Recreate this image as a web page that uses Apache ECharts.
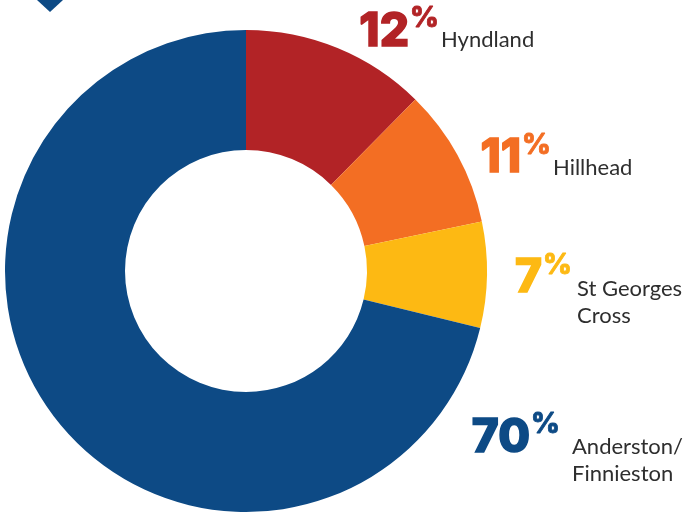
<!DOCTYPE html>
<html>
<head>
<meta charset="utf-8">
<script src="https://cdn.jsdelivr.net/npm/echarts@6/dist/echarts.min.js"></script>
<style>
html,body{margin:0;padding:0;background:#fff;}
#chart{width:684px;height:513px;}
</style>
</head>
<body>
<div id="chart"></div>
<script>
// ---- data ----
const categories = ['Hyndland', 'Hillhead', 'St Georges\nCross', 'Anderston/\nFinnieston'];
// slice sizes as drawn in the picture (angles measured)
const sliceValues = [12.4, 9.3, 7.1, 71.2];
// percentages as printed on the labels
const percentLabels = [12, 11, 7, 70];
const sliceColors = ['#B22326', '#F36E23', '#FDB913', '#0D4A85'];

// ---- layout (label anchors) ----
const labelPos = [
  { numRight: 409, numTop: 12, pctX: 410, pctTop: 6,   nameX: 441, nameTop: 28 },
  { numRight: 521, numTop: 138, pctX: 522, pctTop: 133, nameX: 553, nameTop: 156 },
  { numRight: 542, numTop: 258, pctX: 543, pctTop: 253, nameX: 577, nameTop: 277 },
  { numRight: 530, numTop: 418, pctX: 531, pctTop: 412, nameX: 572, nameTop: 435 }
];

const NUM_SIZE = 46, PCT_SIZE = 28, NAME_SIZE = 22;
const graphics = [];
// top-left chevron marker
graphics.push({
  type: 'polygon',
  shape: { points: [[37, 0], [63, 0], [50, 12]] },
  style: { fill: '#0D4A85' }
});
categories.forEach((name, i) => {
  const p = labelPos[i];
  graphics.push({
    type: 'text', x: p.numRight, y: p.numTop - 0.06 * NUM_SIZE,
    style: { text: String(percentLabels[i]), fill: sliceColors[i], stroke: sliceColors[i], lineWidth: 1.5,
      fontFamily: 'Inter', fontWeight: 800, fontStyle: 'normal', fontSize: NUM_SIZE, align: 'right', verticalAlign: 'top' }
  });
  graphics.push({
    type: 'text', x: p.pctX, y: p.pctTop - 0.06 * PCT_SIZE,
    style: { text: '%', fill: sliceColors[i], stroke: sliceColors[i], lineWidth: 0.8,
      fontFamily: 'Inter', fontWeight: 800, fontStyle: 'normal', fontSize: PCT_SIZE, align: 'left', verticalAlign: 'top' }
  });
  graphics.push({
    type: 'text', x: p.nameX, y: p.nameTop - 0.08 * NAME_SIZE,
    style: { text: name, fill: '#2e2e2e', fontFamily: 'Lato',
      fontWeight: 'normal', fontSize: NAME_SIZE, lineHeight: 27, align: 'left', verticalAlign: 'top' }
  });
});

const chart = echarts.init(document.getElementById('chart'), null, { renderer: 'canvas' });
chart.setOption({
  animation: false,
  backgroundColor: '#ffffff',
  series: [{
    type: 'pie',
    center: [246, 271],
    radius: [121, 241],
    startAngle: 90,
    clockwise: true,
    avoidLabelOverlap: false,
    label: { show: false },
    labelLine: { show: false },
    emphasis: { disabled: true },
    itemStyle: { borderWidth: 0 },
    data: categories.map((c, i) => ({ name: c, value: sliceValues[i], itemStyle: { color: sliceColors[i] } }))
  }],
  graphic: graphics
});
</script>
</body>
</html>
